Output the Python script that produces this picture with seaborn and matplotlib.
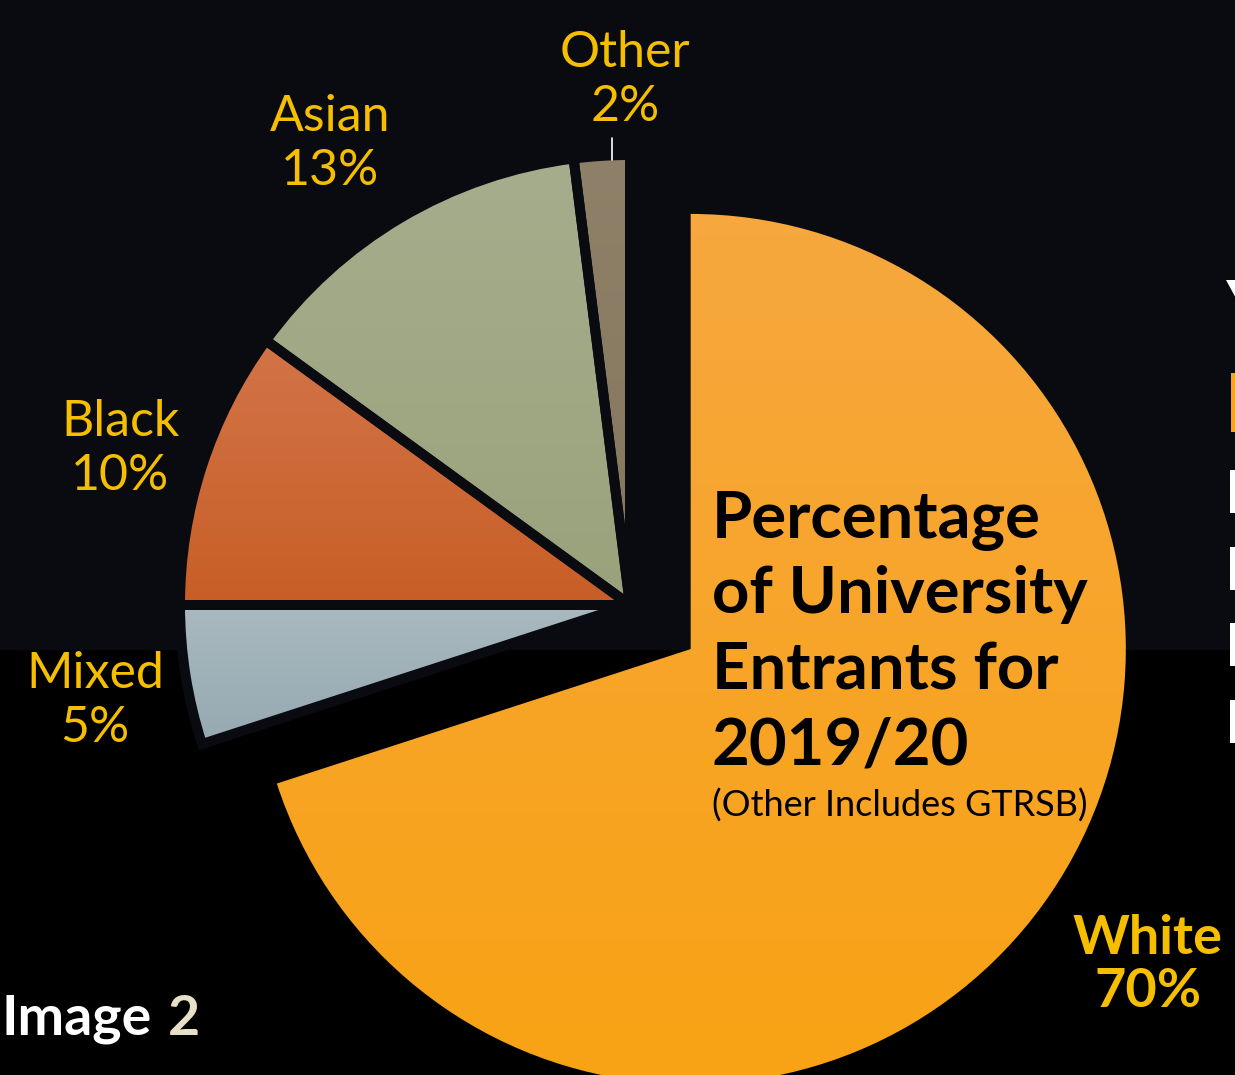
import numpy as np
import matplotlib.pyplot as plt
import seaborn as sns
from matplotlib.colors import to_rgb
from matplotlib.patches import Rectangle, Polygon

sns.set_style("dark")
plt.rcParams['font.family'] = ['Lato', 'DejaVu Sans']

# dados (percentual de ingressantes 2019/20)
grupos = ["White", "Mixed", "Black", "Asian", "Other"]
percentuais = [70, 5, 10, 13, 2]
cores = ["#F7A41F", "#A2B4BA", "#CC622E", "#A0A884", "#8A7C63"]
# degradê de cada fatia (cor de cima, cor de baixo)
cores_topo = ["#F6A83E", "#A8B9BF", "#D27448", "#A6AD8D", "#8F8169"]
cores_base = ["#F9A214", "#97A9B1", "#C85E26", "#9AA27C", "#85775D"]
titulo = ["Percentage", "of University", "Entrants for", "2019/20"]
subtitulo = "(Other Includes GTRSB)"

W, H = 1235, 1075
dourado = "#F5BF00"
fundo = "#090b11"
raio = 450
destaque = [75, 0, 0, 0, 0]  # o pie do matplotlib usa explode em unidades absolutas

fig = plt.figure(figsize=(W / 100, H / 100), dpi=100, facecolor="black")
ax = fig.add_axes([0, 0, 1, 1])
ax.set_facecolor("black")
# fundo: parte de cima azul-escuro, parte de baixo preta
ax.add_patch(Rectangle((0, H - 650), W, 650, facecolor=fundo, edgecolor="none", zorder=0))

fatias, _ = ax.pie(percentuais, colors=cores, startangle=90, counterclock=False,
                   explode=destaque, center=(630, H - 605), radius=raio, frame=True,
                   wedgeprops=dict(edgecolor=fundo, linewidth=7.2, zorder=2))
fatias[0].set_radius(raio * 0.967)
fatias[0].set_edgecolor("none")

# preenche cada fatia com um degradê vertical
fig.canvas.draw()
for fatia, c1, c2 in zip(fatias, cores_topo, cores_base):
    bb = fatia.get_path().get_extents(fatia.get_patch_transform())
    t = np.linspace(0, 1, 256)[:, None]
    grad = (1 - t) * np.array(to_rgb(c1)) + t * np.array(to_rgb(c2))
    grad = np.repeat(grad[:, None, :], 2, axis=1)
    im = ax.imshow(grad, extent=(bb.x0, bb.x1, bb.y0, bb.y1), aspect="auto",
                   origin="upper", zorder=1.5, interpolation="bilinear")
    im.set_clip_path(fatia)
    fatia.set_facecolor("none")

ax.set_xlim(0, W)
ax.set_ylim(0, H)
ax.axis("off")

# rótulos das fatias
posicoes = {"Other": (625, 80), "Asian": (330, 144), "Black": (120, 449), "Mixed": (95, 701)}
for g, p in zip(grupos, percentuais):
    if g == "White":
        continue
    x, y = posicoes[g]
    ax.text(x, H - y, f"{g}\n{p}%", color=dourado, fontsize=36, ha="center", va="center",
            linespacing=1.2, zorder=5)
ax.text(1148, H - 965, f"{grupos[0]}\n{percentuais[0]}%", color=dourado, fontsize=39,
        fontweight="bold", ha="center", va="center", linespacing=1.1, zorder=5)
ax.plot([612, 612], [H - 138, H - 160], color="white", lw=1.2, zorder=5)

# título dentro da fatia
for linha, yb in zip(titulo, [538, 613, 689, 765]):
    ax.text(712, H - yb, linha, color="black", fontsize=47, fontweight="bold",
            ha="left", va="baseline", zorder=5)
ax.text(712, H - 817, subtitulo, color="black", fontsize=26,
        ha="left", va="baseline", zorder=5)

# canto inferior
ax.text(2, H - 1035, "Image", color="white", fontsize=40, fontweight="bold",
        ha="left", va="baseline", zorder=5)
ax.text(168, H - 1035, "2", color="#E6E0C8", fontsize=40, fontweight="bold",
        ha="left", va="baseline", zorder=5)

# pedaços do slide seguinte cortados na borda direita
ax.add_patch(Polygon([(1226, H - 280), (1238, H - 280), (1238, H - 302)], closed=True,
                     facecolor="white", edgecolor="none", zorder=5))
ax.add_patch(Rectangle((1231, H - 432), 6, 59, facecolor="#F7A41F", edgecolor="none", zorder=5))
for yt in [470, 547, 623, 700]:
    ax.add_patch(Rectangle((1230, H - yt - 43), 7, 43, facecolor="white", edgecolor="none", zorder=5))

fig.savefig("out.png", dpi=100, facecolor=fig.get_facecolor())
